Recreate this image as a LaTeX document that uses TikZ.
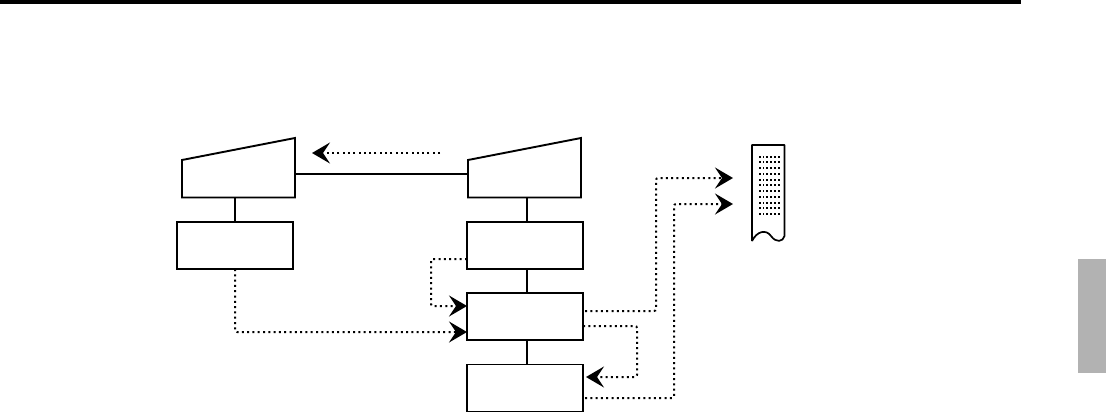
\documentclass[tikz,border=0pt]{standalone}
\usetikzlibrary{arrows.meta}
\definecolor{sidegray}{gray}{0.7}
\tikzset{
  x=1pt,y=-1pt,
  solidline/.style={line width=1.9pt,line join=miter},
  box/.style={draw,line width=1.9pt,rectangle,minimum width=116pt,minimum height=47pt,inner sep=0pt,outer sep=0pt},
  dotline/.style={line width=2pt,dash pattern=on 2pt off 3.3pt,rounded corners=2pt},
  tip/.style={-{Stealth[length=18pt,width=21pt,inset=7pt]}},
}
\begin{document}
\begin{tikzpicture}
\useasboundingbox (0,0) rectangle (1106,413);
\fill (0,0) rectangle (1021,4);
\fill[sidegray] (1078,259) rectangle (1106,373);
% boxes
\node[box] (L) at (235,245.5) {};
\node[box] (A) at (525,245.5) {};
\node[box] (B) at (525,316.5) {};
\node[box] (C) at (525,388) {};
% trapezoids
\draw[solidline] (182,160) -- (295,138) -- (295,197.5) -- (182,197.5) -- cycle;
\draw[solidline] (468,160) -- (581,138) -- (581,197.5) -- (468,197.5) -- cycle;
\coordinate (tl) at (295,174);
\coordinate (tr) at (468,174);
\coordinate (tlb) at (235,197.5);
\coordinate (trb) at (527,197.5);
% solid connectors
\draw[solidline] (tl) -- (tr);
\draw[solidline] (tlb) -- (tlb |- L.north);
\draw[solidline] (trb) -- (trb |- A.north);
\draw[solidline] (527,269) -- (527,293);
\draw[solidline] (527,340) -- (527,364.5);
% free ends
\coordinate (arrA1) at (440,153);
\coordinate (arrA2) at (312,153);
\coordinate (rp1) at (733,178);
\coordinate (rp2) at (733,204);
% dotted
\draw[dotline,tip] (arrA1) -- (arrA2);
\draw[dotline,tip] (L.south) -- (235,332) -- (B.west |- 0,332);
\draw[dotline,tip] (A.west |- 0,259) -- (431,259) -- (431,306) -- (B.west |- 0,306);
\draw[dotline,tip] (585,311) -- (656,311) -- (656,178) -- (rp1);
\draw[dotline,tip] (B.east |- 0,326) -- (637,326) -- (637,377) -- (586,377);
\draw[dotline,tip] (585,398) -- (674,398) -- (674,204) -- (rp2);
% receipt
\draw[line width=1.7pt,line join=round] (752,241) -- (752,145) -- (784.5,145) -- (784.5,236)
  .. controls (783,242) and (776,243) .. (771,236)
  .. controls (766,229) and (757,231) .. (752,241);
\foreach \r in {0,...,10}{
  \foreach \c in {0,...,5}{
    \fill (759.5+\c*3.9-0.9,156.7+\r*5.73-1) rectangle +(1.9,2);
  }
}
\end{tikzpicture}
\end{document}
